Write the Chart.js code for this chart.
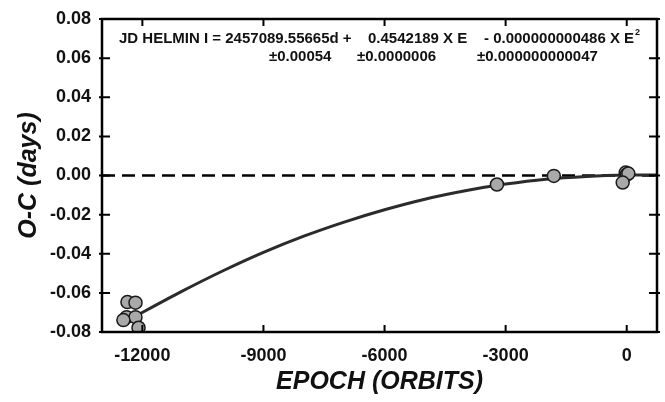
<!doctype html>
<html>

<head>
    <title>O-C Helmin</title>
    <script src="https://cdn.jsdelivr.net/npm/chart.js"></script>
    <style>
        body { margin: 0; background: #fff; }
        #wrap { width: 665px; height: 402px; }
    </style>
</head>

<body>
    <div id="wrap">
        <canvas id="grafico"></canvas>
    </div>

    <script>
        // pontos observados (epoca, O-C em dias)
        var epocas = [-12370, -12170, -12390, -12170, -12095, -12470, -3215, -1806, -25, 0, 40, -100];
        var oc = [-0.0647, -0.0650, -0.0724, -0.0724, -0.0778, -0.0739, -0.0046, -0.0002, 0.0015, 0.0005, 0.0010, -0.0036];

        // ajuste quadratico
        var ajusteE = [-12400, -11000, -10000, -9000, -8000, -7000, -6000, -5000, -4000, -3000, -2000, -1000, 0, 750];
        var ajusteOC = [-0.0745, -0.0590, -0.0487, -0.0393, -0.0310, -0.0238, -0.0175, -0.0121, -0.0078, -0.0044, -0.0019, -0.0005, 0.0002, 0.0003];

        // linha tracejada em zero
        var zeroE = [-13000, 750];
        var zeroOC = [0, 0];

        var xTicks = [-12000, -9000, -6000, -3000, 0];
        var yTicks = [-0.08, -0.06, -0.04, -0.02, 0.00, 0.02, 0.04, 0.06, 0.08];

        var fonte = '"Liberation Sans", Arial, sans-serif';

        function pares(xs, ys) {
            return xs.map((x, i) => ({ x: x, y: ys[i] }));
        }

        var moldura = {
            id: 'moldura',
            afterDraw(chart) {
                var ctx = chart.ctx;
                var a = chart.chartArea;
                var sx = chart.scales.x;
                var sy = chart.scales.y;
                ctx.save();
                ctx.strokeStyle = '#000';
                ctx.lineWidth = 2.5;
                ctx.strokeRect(a.left, a.top, a.right - a.left, a.bottom - a.top);

                ctx.lineWidth = 2;
                ctx.beginPath();
                xTicks.forEach(v => {
                    var px = sx.getPixelForValue(v);
                    ctx.moveTo(px, a.bottom + 1);
                    ctx.lineTo(px, a.bottom - 7);
                    ctx.moveTo(px, a.top - 1);
                    ctx.lineTo(px, a.top + 7);
                });
                yTicks.forEach(v => {
                    var py = sy.getPixelForValue(v);
                    ctx.moveTo(a.left - 3, py);
                    ctx.lineTo(a.left + 8, py);
                    ctx.moveTo(a.right + 3, py);
                    ctx.lineTo(a.right - 8, py);
                });
                ctx.stroke();

                // equacao
                ctx.fillStyle = '#111';
                ctx.textBaseline = 'middle';
                ctx.textAlign = 'left';
                ctx.font = 'bold 15px ' + fonte;
                ctx.fillText('JD HELMIN I = 2457089.55665d +', 119, 39);
                ctx.fillText('0.4542189 X E', 368, 39);
                ctx.fillText('- 0.000000000486 X E', 484, 39);
                var w = ctx.measureText('- 0.000000000486 X E').width;
                ctx.font = 'bold 9px ' + fonte;
                ctx.fillText('2', 484 + w + 1, 33);
                ctx.font = 'bold 15px ' + fonte;
                ctx.fillText('\u00B10.00054', 269, 57);
                ctx.fillText('\u00B10.0000006', 357, 57);
                ctx.fillText('\u00B10.000000000047', 477, 57);
                ctx.restore();
            }
        };

        var grafico = new Chart(document.getElementById('grafico').getContext('2d'), {
            type: 'scatter',
            data: {
                datasets: [{
                    label: 'zero',
                    data: pares(zeroE, zeroOC),
                    showLine: true,
                    borderColor: '#000',
                    borderWidth: 2.5,
                    borderDash: [13, 7],
                    pointRadius: 0,
                    order: 3
                }, {
                    label: 'ajuste',
                    data: pares(ajusteE, ajusteOC),
                    showLine: true,
                    borderColor: '#2b2b2b',
                    borderWidth: 3,
                    cubicInterpolationMode: 'monotone',
                    pointRadius: 0,
                    order: 2
                }, {
                    label: 'O-C',
                    data: pares(epocas, oc),
                    pointRadius: 6.5,
                    pointBackgroundColor: '#a9a9a9',
                    pointBorderColor: '#1a1a1a',
                    pointBorderWidth: 1.5,
                    order: 1
                }]
            },
            options: {
                responsive: true,
                maintainAspectRatio: false,
                animation: false,
                layout: {
                    padding: { left: 0, right: 8, top: 19, bottom: 0 }
                },
                plugins: {
                    legend: { display: false },
                    tooltip: { enabled: false }
                },
                scales: {
                    x: {
                        type: 'linear',
                        min: -13000,
                        max: 750,
                        afterBuildTicks: s => { s.ticks = xTicks.map(v => ({ value: v })); },
                        afterFit: s => { s.height = 70; },
                        grid: { display: false },
                        border: { display: false },
                        ticks: {
                            padding: 5,
                            color: '#111',
                            font: { family: fonte, size: 18, weight: 'bold' },
                            callback: v => String(v)
                        },
                        title: {
                            display: true,
                            text: 'EPOCH (ORBITS)',
                            color: '#111',
                            padding: { top: 0, bottom: 5 },
                            font: { family: fonte, size: 25, weight: 'bold', style: 'italic' }
                        }
                    },
                    y: {
                        min: -0.08,
                        max: 0.08,
                        afterBuildTicks: s => { s.ticks = yTicks.map(v => ({ value: v })); },
                        afterFit: s => { s.width = 102; },
                        grid: { display: false },
                        border: { display: false },
                        ticks: {
                            padding: 3,
                            color: '#111',
                            font: { family: fonte, size: 18, weight: 'bold' },
                            callback: v => v.toFixed(2)
                        },
                        title: {
                            display: true,
                            text: 'O-C (days)',
                            color: '#111',
                            padding: { top: 14, bottom: 0 },
                            font: { family: fonte, size: 25, weight: 'bold', style: 'italic' }
                        }
                    }
                }
            },
            plugins: [moldura]
        });
    </script>
</body>

</html>
